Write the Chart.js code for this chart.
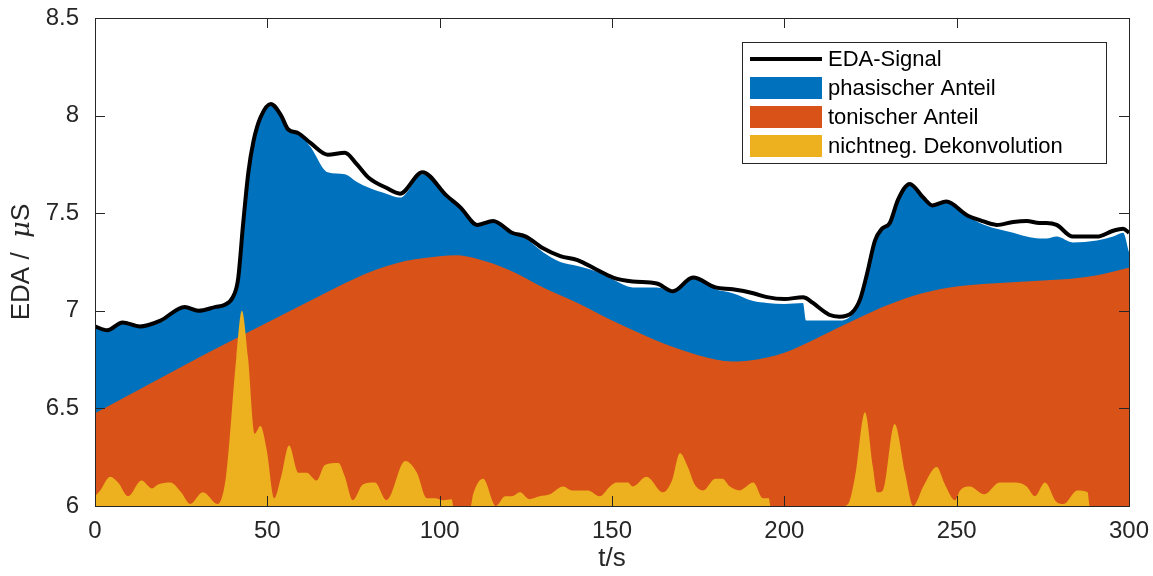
<!DOCTYPE html>
<html>
<head>
<meta charset="utf-8">
<script src="https://cdn.jsdelivr.net/npm/chart.js@4.4.0/dist/chart.umd.min.js"></script>
<style>
body{margin:0;background:#fff;}
</style>
</head>
<body>
<canvas id="myChart" width="1153" height="576"></canvas>
<script>
// ticks
var xTicks = [0, 50, 100, 150, 200, 250, 300];
var yTicks = [6, 6.5, 7, 7.5, 8, 8.5];

// legend labels, axis titles
var labels = ["EDA-Signal", "phasischer Anteil", "tonischer Anteil", "nichtneg. Dekonvolution"];
var xTitle = "t/s";
var yTitleParts = ["EDA /  ", "μ", "S"];

// EDA signal and upper edge of the phasic area (same time grid)
var sigT = [0, 3.5, 8, 13, 19, 26, 30, 35, 37.5, 40, 41.5, 43, 44.5, 46, 48, 51, 54, 56, 59, 62.5,
  67.5, 72.5, 76, 79.5, 84.5, 88.5, 95, 102, 106, 111, 115.5, 121, 125, 130, 135, 140, 145.6, 150.3, 156, 163,
  167.7, 173.5, 180, 185, 191, 195, 200, 205.4, 206.3, 208.3, 213, 216, 219.6, 222, 224, 226.3, 228.3, 230.6, 233, 236.4,
  240.3, 243, 247, 253, 256.7, 261.6, 266.4, 270.3, 274, 276, 279, 283.7, 290.7, 295.4, 298.3, 300];
var signal = [6.92, 6.90, 6.94, 6.92, 6.95, 7.02, 7.00, 7.02, 7.03, 7.07, 7.16, 7.45, 7.71, 7.87, 7.99, 8.06, 8.00, 7.93, 7.91, 7.86,
  7.80, 7.81, 7.75, 7.68, 7.63, 7.60, 7.71, 7.59, 7.53, 7.44, 7.46, 7.40, 7.38, 7.32, 7.28, 7.26, 7.21, 7.17, 7.15, 7.14,
  7.10, 7.17, 7.12, 7.11, 7.09, 7.07, 7.06, 7.07, 7.065, 7.04, 6.98, 6.97, 6.99, 7.06, 7.19, 7.36, 7.42, 7.45, 7.57, 7.65,
  7.58, 7.54, 7.56, 7.49, 7.465, 7.44, 7.455, 7.46, 7.45, 7.45, 7.44, 7.38, 7.38, 7.41, 7.42, 7.40];
var phasicTop = [6.92, 6.90, 6.94, 6.92, 6.94, 7.02, 7.00, 7.02, 7.03, 7.07, 7.16, 7.45, 7.71, 7.87, 7.99, 8.06, 8.00, 7.93, 7.91, 7.84,
  7.71, 7.70, 7.66, 7.63, 7.60, 7.58, 7.70, 7.58, 7.52, 7.44, 7.46, 7.40, 7.37, 7.30, 7.25, 7.23, 7.20, 7.16, 7.12, 7.12,
  7.10, 7.17, 7.11, 7.09, 7.05, 7.04, 7.035, 7.04, 6.95, 6.95, 6.95, 6.95, 6.98, 7.06, 7.19, 7.36, 7.42, 7.45, 7.57, 7.65,
  7.58, 7.54, 7.56, 7.49, 7.45, 7.42, 7.40, 7.38, 7.37, 7.37, 7.38, 7.35, 7.36, 7.38, 7.40, 7.30];

// tonic component
var tonT = [0, 10, 20, 30, 40, 50, 60, 70, 80, 90, 100, 105, 110, 120, 130, 140, 150, 160, 170, 180,
  185, 190, 200, 210, 220, 230, 240, 250, 260, 270, 280, 290, 300];
var tonic = [6.475, 6.57, 6.665, 6.76, 6.85, 6.94, 7.03, 7.12, 7.20, 7.255, 7.28, 7.285, 7.27, 7.21, 7.12, 7.04, 6.95, 6.87, 6.80, 6.75,
  6.74, 6.745, 6.785, 6.865, 6.95, 7.03, 7.09, 7.125, 7.14, 7.15, 7.16, 7.18, 7.22];

// nonnegative deconvolution (drawn from 6)
var decT = [0, 1.5, 4.4, 6.7, 9.6, 13.5, 16.5, 18.3, 21.8, 25, 27.6, 31.3, 35.6, 38, 41, 42.6, 44.4, 46.3, 48, 49.8,
  52, 54, 56.3, 59, 61.4, 64.3, 66.7, 70.6, 72.5, 74.8, 77.7, 81.2, 84.6, 90, 93.4, 96.3, 98.6, 101, 103.5, 104,
  109, 109.7, 112.6, 116.3, 119, 121, 123.3, 126, 129, 132, 135.8, 138.4, 140, 143, 146.5, 149.4, 151.4, 154.6, 156, 160,
  164.8, 167.4, 169.7, 172, 174, 176.4, 180, 182, 184.2, 187, 191, 193.8, 195.5, 196, 217, 218.5, 220.5, 223.4, 225.7, 227,
  228.6, 232, 235, 237.4, 240.3, 244.2, 246.6, 249.5, 251, 253.8, 258, 262.5, 266.9, 270.3, 272.7, 275.6, 279, 281, 285, 288,
  288.6, 300];
var decon = [6.05, 6.08, 6.15, 6.12, 6.05, 6.13, 6.09, 6.11, 6.12, 6.07, 6.01, 6.07, 6.01, 6.15, 6.76, 7.00, 6.76, 6.37, 6.41, 6.29,
  6.04, 6.15, 6.31, 6.17, 6.17, 6.13, 6.21, 6.22, 6.15, 6.03, 6.11, 6.12, 6.03, 6.23, 6.17, 6.04, 6.04, 6.03, 6.035, 6.0,
  6.0, 6.06, 6.14, 6.00, 6.05, 6.05, 6.07, 6.035, 6.05, 6.06, 6.10, 6.08, 6.08, 6.08, 6.05, 6.10, 6.12, 6.12, 6.10, 6.15,
  6.07, 6.13, 6.27, 6.20, 6.11, 6.08, 6.14, 6.14, 6.10, 6.08, 6.12, 6.04, 6.04, 6.0, 6.0, 6.01, 6.15, 6.48, 6.20, 6.07,
  6.08, 6.42, 6.17, 6.0, 6.10, 6.20, 6.11, 6.03, 6.08, 6.10, 6.06, 6.12, 6.12, 6.10, 6.05, 6.12, 6.02, 6.01, 6.08, 6.07,
  6.0, 6.0];

var colors = ["#000000", "#0072BD", "#D95319", "#EDB120"];
var axisColor = "#262626";
var fontFam = "'Liberation Sans', Arial, sans-serif";

function pairs(ts, vs){
    var out = [];
    for (var i = 0; i < ts.length; i++){
        out.push({x: ts[i], y: vs[i]});
    }
    return out;
}

Chart.defaults.font.family = fontFam;
Chart.defaults.color = axisColor;

// inward ticks on all four sides + box, legend and y title, like matlab
var boxPlugin = {
    id: "box",
    afterDatasetsDraw: function(chart){
        var ctx = chart.ctx, a = chart.chartArea;
        var xs = chart.scales.x, ys = chart.scales.y;
        ctx.save();
        ctx.strokeStyle = axisColor;
        ctx.lineWidth = 1;
        ctx.beginPath();
        xs.ticks.forEach(function(t){
            var px = Math.round(xs.getPixelForValue(t.value)) + 0.5;
            ctx.moveTo(px, a.bottom); ctx.lineTo(px, a.bottom - 10);
            ctx.moveTo(px, a.top); ctx.lineTo(px, a.top + 10);
        });
        ys.ticks.forEach(function(t){
            var py = Math.round(ys.getPixelForValue(t.value)) + 0.5;
            ctx.moveTo(a.left, py); ctx.lineTo(a.left + 10, py);
            ctx.moveTo(a.right, py); ctx.lineTo(a.right - 10, py);
        });
        ctx.stroke();
        ctx.strokeRect(Math.round(a.left) + 0.5, Math.round(a.top) + 0.5, Math.round(a.right - a.left), Math.round(a.bottom - a.top));
        ctx.restore();
    },
    afterDraw: function(chart){
        var ctx = chart.ctx, a = chart.chartArea;
        var bw = 364, bh = 121;
        var bx = a.right - 23 - bw, by = a.top + 24;
        ctx.save();
        ctx.fillStyle = "#fff";
        ctx.fillRect(bx, by, bw, bh);
        ctx.strokeStyle = axisColor;
        ctx.lineWidth = 1;
        ctx.strokeRect(bx + 0.5, by + 0.5, bw, bh);
        ctx.font = "22px " + fontFam;
        ctx.textBaseline = "middle";
        for (var i = 0; i < labels.length; i++){
            var yc = by + 17 + i * 29;
            if (i == 0){
                ctx.strokeStyle = colors[0];
                ctx.lineWidth = 4;
                ctx.beginPath();
                ctx.moveTo(bx + 8, yc); ctx.lineTo(bx + 80, yc);
                ctx.stroke();
            } else {
                ctx.fillStyle = colors[i];
                ctx.fillRect(bx + 8, yc - 11, 72, 22);
            }
            ctx.fillStyle = "#000";
            ctx.fillText(labels[i], bx + 86, yc + 1);
        }
        ctx.restore();

        // y title with italic mu
        ctx.save();
        ctx.translate(22, (a.top + a.bottom) / 2);
        ctx.rotate(-Math.PI / 2);
        ctx.fillStyle = axisColor;
        ctx.textBaseline = "middle";
        var fonts = ["26px " + fontFam, "italic 26px 'DejaVu Serif', serif", "26px " + fontFam];
        var widths = [], total = 0;
        for (var j = 0; j < yTitleParts.length; j++){
            ctx.font = fonts[j];
            widths.push(ctx.measureText(yTitleParts[j]).width);
            total += widths[j];
        }
        var x0 = -total / 2;
        for (var k = 0; k < yTitleParts.length; k++){
            ctx.font = fonts[k];
            ctx.fillText(yTitleParts[k], x0, 0);
            x0 += widths[k];
        }
        ctx.restore();
    }
};

var chart = new Chart(document.getElementById("myChart"), {
    type: "line",
    data: {
        datasets: [
            {
                label: labels[0],
                data: pairs(sigT, signal),
                borderColor: colors[0],
                borderWidth: 4,
                fill: false,
                cubicInterpolationMode: "monotone",
                order: 0
            },
            {
                label: labels[1],
                data: pairs(sigT, phasicTop),
                borderColor: "transparent",
                borderWidth: 0,
                backgroundColor: colors[1],
                fill: {value: 6},
                cubicInterpolationMode: "monotone",
                order: 3
            },
            {
                label: labels[2],
                data: pairs(tonT, tonic),
                borderColor: "transparent",
                borderWidth: 0,
                backgroundColor: colors[2],
                fill: {value: 6},
                cubicInterpolationMode: "monotone",
                order: 2
            },
            {
                label: labels[3],
                data: pairs(decT, decon),
                borderColor: "transparent",
                borderWidth: 0,
                backgroundColor: colors[3],
                fill: {value: 6},
                cubicInterpolationMode: "monotone",
                order: 1
            }
        ]
    },
    options: {
        responsive: false,
        animation: false,
        events: [],
        elements: { point: { radius: 0 } },
        layout: { padding: { left: 0, right: 24, top: 18, bottom: 0 } },
        plugins: {
            legend: { display: false },
            tooltip: { enabled: false }
        },
        scales: {
            x: {
                type: "linear",
                min: 0,
                max: 300,
                afterBuildTicks: function(s){ s.ticks = xTicks.map(function(v){ return {value: v}; }); },
                afterFit: function(s){ s.height = 70; s.paddingLeft = 0; s.paddingRight = 0; },
                grid: { display: false, drawTicks: false },
                border: { display: false },
                ticks: { font: { size: 24 }, padding: 11, color: axisColor, maxRotation: 0,
                    callback: function(v){ return String(v); } },
                title: { display: true, text: xTitle, font: { size: 26 }, color: axisColor, padding: { top: 0, bottom: 2 } }
            },
            y: {
                min: 6,
                max: 8.5,
                afterBuildTicks: function(s){ s.ticks = yTicks.map(function(v){ return {value: v}; }); },
                afterFit: function(s){ s.width = 95; s.paddingTop = 0; s.paddingBottom = 0; },
                grid: { display: false, drawTicks: false },
                border: { display: false },
                ticks: { font: { size: 24 }, padding: 16, color: axisColor,
                    callback: function(v){ return String(v); } },
                title: { display: false }
            }
        }
    },
    plugins: [boxPlugin]
});
</script>
</body>
</html>
